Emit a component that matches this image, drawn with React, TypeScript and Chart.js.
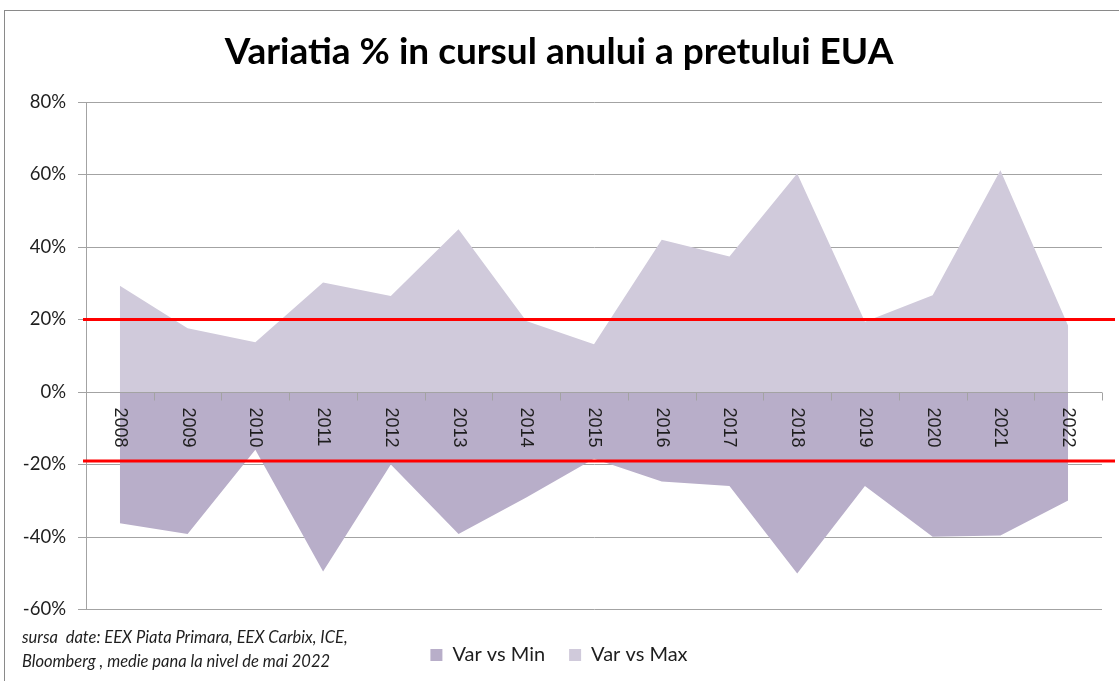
import React, { useEffect, useRef } from "react";
import { Chart, registerables } from "chart.js";

Chart.register(...registerables);

const TITLE = "Variatia % in cursul anului a pretului EUA";
const YEARS = ["2008", "2009", "2010", "2011", "2012", "2013", "2014", "2015", "2016", "2017", "2018", "2019", "2020", "2021", "2022"];
const VAR_VS_MIN = [-36.2, -39.2, -15.9, -49.5, -20.0, -39.2, -29.1, -18.4, -24.7, -25.9, -50.1, -25.9, -39.9, -39.6, -29.9];
const VAR_VS_MAX = [29.3, 17.6, 13.7, 30.2, 26.5, 44.9, 19.6, 13.2, 42.0, 37.4, 60.3, 19.4, 26.7, 61.2, 18.3];
const THRESHOLDS = [20, -19];
const Y_MIN = -60;
const Y_MAX = 80;
const Y_STEP = 20;
const SERIES_NAMES = ["Var vs Min", "Var vs Max"];
const SOURCE_LINES = ["sursa  date: EEX Piata Primara, EEX Carbix, ICE,", "Bloomberg , medie pana la nivel de mai 2022"];

const MIN_COLOR = "#b8aec9";
const MAX_COLOR = "#d0cadb";
const GRID_COLOR = "#a3a3a3";
const TEXT_COLOR = "#1e1e1e";
const CALIBRI_LIKE = "Lato, 'Open Sans', sans-serif";

const overlayPlugin = {
  id: "overlay",
  afterDatasetsDraw(chart: any) {
    const { ctx, chartArea, scales } = chart;
    const x = scales.x;
    const y = scales.y;
    const y0 = Math.round(y.getPixelForValue(0)) + 0.5;
    const n = YEARS.length;
    ctx.save();
    // zero axis line over the fills
    ctx.strokeStyle = GRID_COLOR;
    ctx.lineWidth = 1;
    ctx.beginPath();
    ctx.moveTo(chartArea.left, y0);
    ctx.lineTo(chartArea.right, y0);
    ctx.stroke();
    // category boundary tick marks
    for (let i = 0; i <= n; i++) {
      let px;
      if (i === 0) px = chartArea.left;
      else if (i === n) px = chartArea.right;
      else px = (x.getPixelForValue(i - 1) + x.getPixelForValue(i)) / 2;
      px = Math.round(px) + 0.5;
      ctx.beginPath();
      ctx.moveTo(px, y0);
      ctx.lineTo(px, y0 + 8);
      ctx.stroke();
    }
    // rotated category labels (clockwise)
    ctx.fillStyle = TEXT_COLOR;
    ctx.font = "18px 'Liberation Sans', Arial, sans-serif";
    ctx.textAlign = "left";
    ctx.textBaseline = "middle";
    YEARS.forEach((lab, i) => {
      const px = x.getPixelForValue(i);
      ctx.save();
      ctx.translate(px, y0 + 15);
      ctx.rotate(Math.PI / 2);
      ctx.fillText(lab, 0, 0);
      ctx.restore();
    });
    // threshold red lines
    ctx.strokeStyle = "#ff0000";
    ctx.lineWidth = 3;
    THRESHOLDS.forEach((v) => {
      const py = y.getPixelForValue(v);
      ctx.beginPath();
      ctx.moveTo(chartArea.left - 3, py);
      ctx.lineTo(chartArea.right + 13, py);
      ctx.stroke();
    });
    ctx.restore();
  },
};

export default function App() {
  const canvasRef = useRef<HTMLCanvasElement | null>(null);

  useEffect(() => {
    if (!canvasRef.current) return;
    const chart = new Chart(canvasRef.current, {
      type: "line",
      data: {
        labels: YEARS,
        datasets: [
          {
            label: SERIES_NAMES[0],
            data: VAR_VS_MIN,
            backgroundColor: MIN_COLOR,
            borderColor: MIN_COLOR,
            borderWidth: 0,
            fill: "origin",
            pointRadius: 0,
            tension: 0,
          },
          {
            label: SERIES_NAMES[1],
            data: VAR_VS_MAX,
            backgroundColor: MAX_COLOR,
            borderColor: MAX_COLOR,
            borderWidth: 0,
            fill: "origin",
            pointRadius: 0,
            tension: 0,
          },
        ],
      },
      options: {
        responsive: false,
        animation: false,
        events: [],
        layout: { padding: { left: 16, right: 17, top: 0, bottom: 6 } },
        plugins: {
          title: {
            display: true,
            text: TITLE,
            color: "#000",
            font: { family: CALIBRI_LIKE, size: 37, weight: "bold" },
            padding: { top: 30, bottom: 27.6 },
          },
          legend: {
            display: true,
            position: "bottom",
            labels: {
              color: TEXT_COLOR,
              font: { family: CALIBRI_LIKE, size: 20 },
              boxWidth: 12,
              boxHeight: 12,
              padding: 24,
            },
          },
          tooltip: { enabled: false },
        },
        scales: {
          x: {
            type: "category",
            offset: true,
            grid: { display: false },
            border: { display: false },
            ticks: { display: false },
            afterFit: (s: any) => {
              s.height = 11.5;
            },
          },
          y: {
            min: Y_MIN,
            max: Y_MAX,
            ticks: {
              stepSize: Y_STEP,
              padding: 12,
              color: TEXT_COLOR,
              font: { family: CALIBRI_LIKE, size: 18.5 },
              callback: (v: any) => `${v}%`,
            },
            grid: { color: GRID_COLOR, lineWidth: 1, drawTicks: true, tickLength: 8, tickColor: GRID_COLOR },
            border: { display: true, color: GRID_COLOR, width: 1 },
            afterFit: (s: any) => {
              s.width = 70;
            },
          },
        },
      },
      plugins: [overlayPlugin],
    });
    return () => chart.destroy();
  }, []);

  return (
    <div
      style={{
        position: "fixed",
        left: 0,
        top: 0,
        width: 1119,
        height: 681,
        overflow: "hidden",
        background: "#fff",
      }}
    >
      <div
        style={{
          position: "absolute",
          left: 4,
          top: 10,
          width: 1200,
          height: 800,
          border: "1px solid #8a8a8a",
        }}
      />
      <canvas ref={canvasRef} width={1119} height={681} style={{ position: "absolute", left: 0, top: 0 }} />
      <div
        style={{
          position: "absolute",
          left: 22,
          top: 625,
          fontFamily: CALIBRI_LIKE,
          fontStyle: "italic",
          fontSize: 16.5,
          lineHeight: "24px",
          color: TEXT_COLOR,
          whiteSpace: "pre",
        }}
      >
        {SOURCE_LINES.map((l, i) => (
          <div key={i}>{l}</div>
        ))}
      </div>
    </div>
  );
}
